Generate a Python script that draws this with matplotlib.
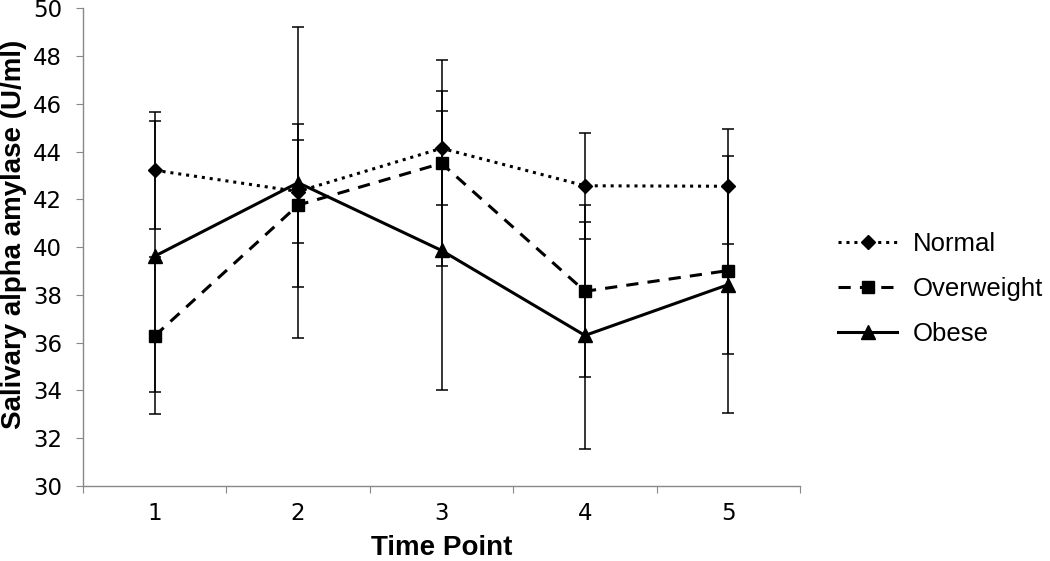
import numpy as np
import matplotlib
matplotlib.use('Agg')
import matplotlib.pyplot as plt

time_points=[1,2,3,4,5]
normal=[43.22,42.33,44.14,42.57,42.55]
normal_err=[2.44,2.16,2.39,2.21,2.40]
overweight=[36.28,41.76,43.51,38.15,39.02]
overweight_err=[3.29,3.41,4.31,3.60,3.51]
obese=[39.62,42.70,39.86,36.30,38.43]
obese_err=[5.68,6.52,5.85,4.76,5.37]
y_ticks=list(range(30,51,2))

fig=plt.figure(figsize=(10.5,5.61),dpi=100)
ax=fig.add_axes([0.079,0.134,0.683,0.851])

series=[('Normal',normal,normal_err,(0,(1,1.6)),'D',7.5),
        ('Overweight',overweight,overweight_err,(0,(4,3)),'s',9),
        ('Obese',obese,obese_err,'-','^',9.5)]
for name,vals,err,ls,mk,ms in series:
    ax.errorbar(time_points,vals,yerr=err,fmt='none',ecolor='black',elinewidth=1.1,capsize=4.5,capthick=1.1,zorder=2)
    ax.plot(time_points,vals,color='black',lw=2.2,ls=ls,marker=mk,ms=ms,label=name,zorder=3)

ax.set_xlim(0.5,5.5); ax.set_ylim(30,50)
ax.set_yticks(y_ticks)
ax.set_xticks(np.arange(0.5,5.6,1.0))
ax.set_xticklabels([])
ax.set_xticks(time_points,minor=True)
ax.set_xticklabels([str(t) for t in time_points],minor=True,fontsize=16.5)
ax.tick_params(axis='x',which='minor',length=0,pad=12)
ax.tick_params(axis='x',which='major',length=5,color='#888888',direction='out')
ax.tick_params(axis='y',length=5,color='#888888',direction='out',labelsize=16.5,pad=10)
for s in ['top','right']: ax.spines[s].set_visible(False)
for s in ['left','bottom']:
    ax.spines[s].set_color('#888888'); ax.spines[s].set_linewidth(1.0)

ax.set_xlabel('Time Point',fontsize=20,fontweight='bold',family='Liberation Sans')
ax.set_ylabel('Salivary alpha amylase (U/ml)',fontsize=20,fontweight='bold',family='Liberation Sans')
ax.xaxis.set_label_coords(0.5,-0.104)
ax.yaxis.set_label_coords(-0.078,0.527)

leg=ax.legend(loc='center left',bbox_to_anchor=(1.053,0.412),frameon=False,borderpad=0,borderaxespad=0,
              prop={'family':'Liberation Sans','size':18.5},handlelength=2.3,labelspacing=0.82,handletextpad=0.6)

fig.savefig('out.png',dpi=100)
